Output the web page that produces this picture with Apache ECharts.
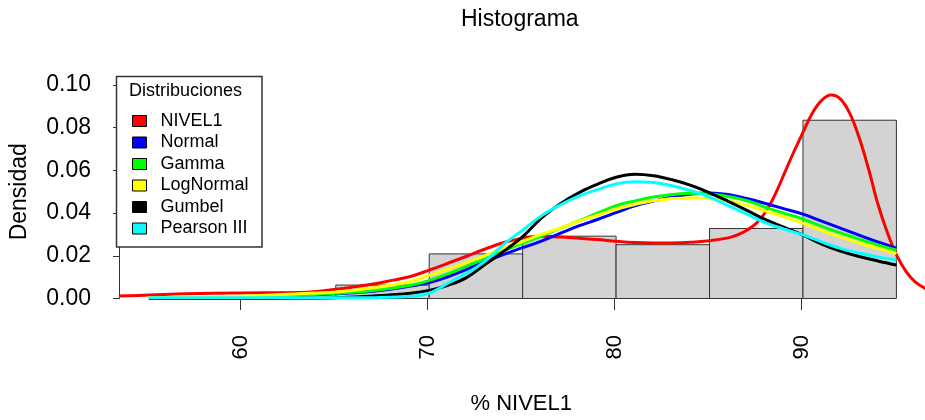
<!DOCTYPE html>
<html>
<head>
<meta charset="utf-8">
<script src="https://cdn.jsdelivr.net/npm/echarts@6/dist/echarts.min.js"></script>
<style>
  html, body { margin: 0; padding: 0; background: #fff; }
  #chart { width: 925px; height: 420px; }
</style>
</head>
<body>
<div id="chart"></div>
<script>
// histogram bins (density)
const binStart = [65, 70, 75, 80, 85, 90];
const binEnd = [70, 75, 80, 85, 90, 95];
const density = [0.0063, 0.0209, 0.0292, 0.0252, 0.0328, 0.0835];

// empirical density of NIVEL1
const kdeX = [53.4, 55, 57, 60, 63, 64, 65, 66, 67, 68, 69, 70, 71, 72, 73, 74, 75, 76, 77, 78, 79, 80, 81, 82, 83, 84, 85, 86, 86.5, 87, 87.5, 88, 88.5, 89, 89.5, 90, 90.5, 91, 91.5, 92, 92.5, 93, 93.5, 94, 94.5, 95, 95.5, 96, 96.6];
const kdeY = [0.0012, 0.0016, 0.0022, 0.0026, 0.0028, 0.0033, 0.0043, 0.0055, 0.0068, 0.0085, 0.0103, 0.0133, 0.0165, 0.0198, 0.0232, 0.0262, 0.0282, 0.0292, 0.0288, 0.0282, 0.0276, 0.0268, 0.0262, 0.026, 0.026, 0.0263, 0.027, 0.0284, 0.0298, 0.032, 0.0352, 0.0405, 0.0485, 0.0585, 0.0685, 0.0778, 0.0868, 0.0928, 0.0953, 0.0935, 0.0868, 0.0755, 0.061, 0.0445, 0.0313, 0.0205, 0.0128, 0.0078, 0.0045];

// fitted distributions
const fitX = [55, 60, 63, 65, 67, 69, 70, 71, 72, 73, 74, 75, 76, 77, 78, 79, 80, 81, 82, 83, 84, 85, 86, 87, 88, 89, 90, 91, 92, 93, 94, 95];
const normalY = [0.0002, 0.0006, 0.0013, 0.0022, 0.0034, 0.0058, 0.0075, 0.0102, 0.0137, 0.0172, 0.0207, 0.0238, 0.0269, 0.0305, 0.034, 0.037, 0.0402, 0.0434, 0.0456, 0.0475, 0.049, 0.0494, 0.0487, 0.0468, 0.0445, 0.042, 0.0395, 0.0362, 0.033, 0.0297, 0.0265, 0.0236];
const gammaY = [0.0002, 0.0007, 0.0015, 0.0024, 0.0038, 0.0062, 0.0085, 0.0115, 0.0152, 0.0188, 0.0225, 0.0258, 0.0292, 0.0328, 0.0363, 0.04, 0.0435, 0.0457, 0.0475, 0.0487, 0.0493, 0.049, 0.0478, 0.0458, 0.0427, 0.0399, 0.0372, 0.0338, 0.0307, 0.0278, 0.0251, 0.0226];
const lognormY = [0.0003, 0.0012, 0.0022, 0.003, 0.005, 0.008, 0.0108, 0.0137, 0.0168, 0.0201, 0.0237, 0.0268, 0.03, 0.033, 0.0362, 0.039, 0.0418, 0.044, 0.0458, 0.0468, 0.0471, 0.0468, 0.0458, 0.0436, 0.041, 0.0382, 0.0352, 0.0318, 0.0288, 0.026, 0.0235, 0.0211];
const gumbelY = [0, 0, 0.0001, 0.0004, 0.0012, 0.0025, 0.0038, 0.0062, 0.0098, 0.016, 0.0222, 0.029, 0.0377, 0.0443, 0.0495, 0.0535, 0.0568, 0.0582, 0.0575, 0.0556, 0.053, 0.0495, 0.0455, 0.0413, 0.0369, 0.0333, 0.0297, 0.0255, 0.0222, 0.0197, 0.0176, 0.0157];
const pearsonY = [0.0003, 0.0003, 0.0003, 0.0003, 0.0004, 0.001, 0.0025, 0.0072, 0.0118, 0.0175, 0.0255, 0.032, 0.0387, 0.0438, 0.048, 0.051, 0.0537, 0.0547, 0.0543, 0.0528, 0.0505, 0.0475, 0.0435, 0.0395, 0.0354, 0.0325, 0.0298, 0.0265, 0.0235, 0.0213, 0.0195, 0.018];

const FONT = '"Liberation Sans", Arial, sans-serif';

function pairs(xs, ys) {
  return xs.map((x, i) => [x, ys[i]]);
}

function curve(name, color, xs, ys) {
  return {
    name: name,
    type: 'line',
    xAxisIndex: 0,
    yAxisIndex: 0,
    data: pairs(xs, ys),
    smooth: 0.4,
    showSymbol: false,
    symbol: 'none',
    color: color,
    lineStyle: { color: color, width: 3 },
    animation: false
  };
}

var myChart = echarts.init(document.getElementById('chart'), null, { width: 925, height: 420 });

myChart.setOption({
  backgroundColor: '#fff',
  animation: false,
  title: {
    text: 'Histograma',
    left: 456,
    top: 3,
    textStyle: { fontFamily: FONT, fontSize: 23, fontWeight: 'normal', color: '#000' }
  },
  grid: [
    { left: 117, right: 0, top: 85, bottom: 121.5 },
    { left: 240.7, right: 123.3, top: 85, bottom: 121.5 }
  ],
  xAxis: [
    {
      type: 'value', gridIndex: 0, min: 53.4, max: 96.53,
      axisLine: { show: false }, axisTick: { show: false },
      axisLabel: { show: false }, splitLine: { show: false }
    },
    {
      type: 'value', gridIndex: 1, min: 60, max: 90, interval: 10,
      offset: 10,
      name: '% NIVEL1',
      nameLocation: 'middle',
      nameGap: 86,
      nameTextStyle: { fontFamily: FONT, fontSize: 22, color: '#000' },
      axisLine: { show: true, lineStyle: { color: '#333', width: 1 } },
      axisTick: { show: true, length: 13, lineStyle: { color: '#333', width: 1 } },
      axisLabel: { rotate: 90, margin: 28, fontFamily: FONT, fontSize: 22, color: '#000' },
      splitLine: { show: false }
    }
  ],
  yAxis: [
    {
      type: 'value', gridIndex: 0, min: 0, max: 0.1, interval: 0.02,
      name: 'Densidad',
      nameLocation: 'middle',
      nameRotate: 90,
      nameGap: 88,
      nameTextStyle: { fontFamily: FONT, fontSize: 23, color: '#000' },
      axisLine: { show: true, lineStyle: { color: '#333', width: 1 } },
      axisTick: { show: true, length: 6, lineStyle: { color: '#333', width: 1 } },
      axisLabel: {
        margin: 28, fontFamily: FONT, fontSize: 23, color: '#000',
        formatter: function (v) { return v.toFixed(2); }
      },
      splitLine: { show: false }
    },
    {
      type: 'value', gridIndex: 1, min: 0, max: 0.1, show: false
    }
  ],
  legend: {
    data: ['NIVEL1', 'Normal', 'Gamma', 'LogNormal', 'Gumbel', 'Pearson III'],
    orient: 'vertical',
    left: 132,
    top: 111,
    padding: 0,
    icon: 'rect',
    itemWidth: 14,
    itemHeight: 11,
    itemGap: 1.5,
    selectedMode: false,
    itemStyle: { borderColor: '#000', borderWidth: 1 },
    textStyle: { fontFamily: FONT, fontSize: 18, lineHeight: 20, color: '#000', padding: [0, 0, 0, 9] },
    z: 10
  },
  graphic: [
    {
      type: 'rect',
      shape: { x: 116.5, y: 76.5, width: 145.5, height: 170.5 },
      style: { fill: '#fff', stroke: '#333', lineWidth: 1.5 },
      z: 5
    },
    {
      type: 'text',
      left: 129,
      top: 82,
      style: { text: 'Distribuciones', fontFamily: FONT, fontSize: 18, fill: '#000' },
      z: 6
    }
  ],
  series: [
    {
      name: 'hist',
      type: 'custom',
      xAxisIndex: 0,
      yAxisIndex: 0,
      data: binStart.map((s, i) => [s, binEnd[i], density[i]]),
      renderItem: function (params, api) {
        const p0 = api.coord([api.value(0), api.value(2)]);
        const p1 = api.coord([api.value(1), 0]);
        return {
          type: 'rect',
          shape: { x: p0[0], y: p0[1], width: p1[0] - p0[0], height: p1[1] - p0[1] },
          style: { fill: '#d3d3d3', stroke: '#333', lineWidth: 1 }
        };
      },
      animation: false
    },
    curve('NIVEL1', '#ff0000', kdeX, kdeY),
    curve('Normal', '#0000ff', fitX, normalY),
    curve('Gamma', '#00ff00', fitX, gammaY),
    curve('LogNormal', '#ffff00', fitX, lognormY),
    curve('Gumbel', '#000000', fitX, gumbelY),
    curve('Pearson III', '#00ffff', fitX, pearsonY)
  ]
});
</script>
</body>
</html>
